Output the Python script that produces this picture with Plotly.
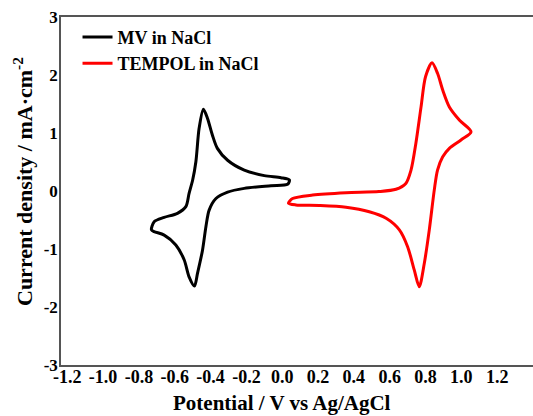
import plotly.graph_objects as go

# MV in NaCl (closed CV loop)
mv_v = [-0.73, -0.715, -0.659, -0.585, -0.538, -0.52, -0.50, -0.482, -0.464, -0.44, -0.417, -0.39, -0.362,
        -0.305, -0.212, -0.10, -0.007, 0.04, 0.03, -0.063, -0.212, -0.305, -0.37, -0.408, -0.426, -0.445,
        -0.473, -0.49, -0.52, -0.547, -0.594, -0.659, -0.715, -0.73]
mv_j = [-0.67, -0.53, -0.455, -0.385, -0.27, -0.04, 0.19, 0.505, 1.08, 1.41, 1.25, 0.965, 0.735,
        0.53, 0.36, 0.265, 0.23, 0.19, 0.115, 0.09, 0.045, -0.02, -0.13, -0.33, -0.615, -1.02,
        -1.42, -1.64, -1.48, -1.19, -0.93, -0.76, -0.70, -0.67]

# TEMPOL in NaCl (closed CV loop)
te_v = [0.035, 0.058, 0.17, 0.356, 0.54, 0.635, 0.69, 0.719, 0.746, 0.775, 0.80, 0.836, 0.867, 0.896, 0.933,
        0.99, 1.054, 0.998, 0.933, 0.896, 0.867, 0.849, 0.821, 0.793, 0.765, 0.737, 0.70, 0.654, 0.58,
        0.486, 0.356, 0.207, 0.076, 0.035]
te_j = [-0.21, -0.13, -0.07, -0.03, -0.01, 0.03, 0.13, 0.36, 0.82, 1.45, 1.97, 2.21, 2.03, 1.74, 1.45,
        1.22, 1.02, 0.88, 0.735, 0.59, 0.36, 0.02, -0.67, -1.25, -1.65, -1.36, -0.96, -0.67, -0.47,
        -0.357, -0.28, -0.25, -0.24, -0.21]

x_ticks = [-1.2, -1.0, -0.8, -0.6, -0.4, -0.2, 0.0, 0.2, 0.4, 0.6, 0.8, 1.0, 1.2]
x_labels = ["-1.2", "-1.0", "-0.8", "-0.6", "-0.4", "-0.2", "0.0", "0.2", "0.4", "0.6", "0.8", "1.0", "1.2"]
y_ticks = [-3, -2, -1, 0, 1, 2, 3]
y_labels = ["-3", "-2", "-1", "0", "1", "2", "3"]

FONT = "'Liberation Serif', 'Times New Roman', Times, serif"

fig = go.Figure()
fig.add_trace(go.Scatter(x=mv_v, y=mv_j, mode="lines", name="<b>MV in NaCl</b>",
                         line=dict(color="black", width=3, shape="spline", smoothing=0.8)))
fig.add_trace(go.Scatter(x=te_v, y=te_j, mode="lines", name="<b>TEMPOL in NaCl</b>",
                         line=dict(color="#ff0000", width=3, shape="spline", smoothing=0.8)))

fig.update_layout(
    width=533, height=416,
    margin=dict(l=61, r=0, t=17, b=51, autoexpand=False),
    paper_bgcolor="white", plot_bgcolor="white",
    font=dict(family=FONT, color="black", size=18),
    showlegend=True,
    legend=dict(x=0.035, y=0.995, xanchor="left", yanchor="top",
                bgcolor="rgba(0,0,0,0)", font=dict(family=FONT, size=18, color="black"),
                tracegroupgap=0, itemwidth=30),
    xaxis=dict(range=[-1.235, 1.40], tickvals=x_ticks, ticktext=["<b>%s</b>" % t for t in x_labels],
               showgrid=False, zeroline=False, showline=True, linecolor="#555555", linewidth=1.5,
               mirror=True, ticks="", ticklabelstandoff=-5, automargin=False,
               tickfont=dict(family=FONT, size=18)),
    yaxis=dict(range=[-3, 3], tickvals=y_ticks, ticktext=["<b>%s</b>" % t for t in y_labels],
               showgrid=False, zeroline=False, showline=True, linecolor="#555555", linewidth=1.5,
               ticks="", ticklabelstandoff=-2, automargin=False, tickfont=dict(family=FONT, size=17)),
    annotations=[
        dict(text="<b>Potential / V vs Ag/AgCl</b>", xref="paper", yref="paper",
             x=(282 - 61) / 472, y=-(403 - 365) / 348, xanchor="center", yanchor="middle", showarrow=False,
             font=dict(family=FONT, size=21)),
        dict(text="<b>Current density / mA·cm<sup>-2</sup></b>", xref="paper", yref="paper",
             x=(23 - 61) / 472, y=(365 - 182) / 348, xanchor="center", yanchor="middle", showarrow=False,
             textangle=-90, font=dict(family=FONT, size=22)),
    ],
)

fig.write_html("out.html", config={"displayModeBar": False},
               post_script="document.body.style.margin='0';document.body.style.padding='0';")
